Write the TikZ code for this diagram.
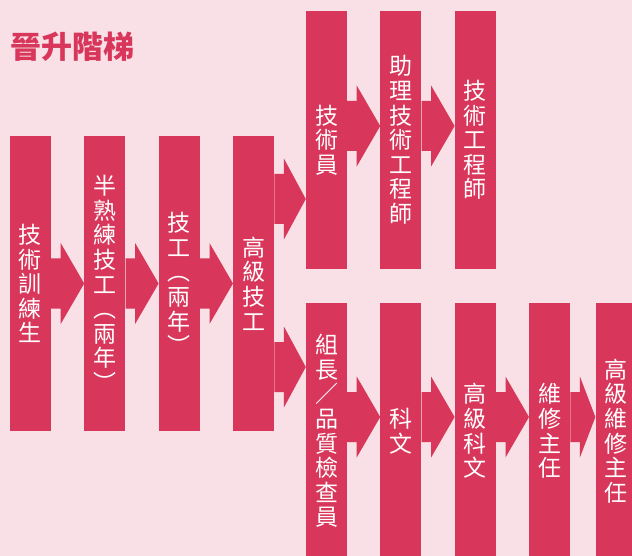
\documentclass[tikz,border=0pt]{standalone}
\usepackage{fontspec}
\newfontfamily\cjk{Noto Sans CJK TC}
\usetikzlibrary{positioning}
\usetikzlibrary{calc}
\definecolor{ladderred}{RGB}{216,54,90}
\definecolor{ladderbg}{RGB}{248,224,230}

\begin{document}
\begin{tikzpicture}[x=1pt,y=1pt]
  \tikzset{node distance=33pt,
           basicbox/.style={minimum width=41pt,minimum height=#1,inner sep=0pt,fill=ladderred,text=white,
                            align=center,font=\cjk\fontsize{23}{24.6}\selectfont},
           longbox/.style={basicbox=295pt},
           upbox/.style={basicbox=258pt},
           downbox/.style={basicbox=256pt},
           promote/.style={fill=ladderred,to path={let \p1=(\tikztostart),\p2=(\tikztotarget) in
             (\x1,\y1+25pt) -- (\x1+9.5pt,\y1+25pt) -- (\x1+9.5pt,\y1+40.5pt) -- (\x2,\y1) --
             (\x1+9.5pt,\y1-40.5pt) -- (\x1+9.5pt,\y1-25pt) -- (\x1,\y1-25pt) -- cycle}}}
  \useasboundingbox (0,0) rectangle (632,-556);
  \clip (0,0) rectangle (632,-556);
  \fill[ladderbg] (0,0) rectangle (632,-556);

  \node[anchor=west,inner sep=0pt,text=ladderred,font=\cjk\bfseries\fontsize{31}{31}\selectfont] (title) at (10,-47) {晉升階梯};

  % first track
  \node[longbox] (trainee) at (30.5,-283.5) {技\\術\\訓\\練\\生};
  \node[longbox,right=of trainee] (semiskilled) {半\\熟\\練\\技\\工\\︵\\兩\\年\\︶};
  \node[longbox,right=of semiskilled] (skilled) {技\\工\\︵\\兩\\年\\︶};
  \node[longbox,right=of skilled] (senior) {高\\級\\技\\工};

  % technical track
  \node[upbox] (technician) at (326.5,-140) {技\\術\\員};
  \node[upbox,right=of technician] (asstengineer) {助\\理\\技\\術\\工\\程\\師};
  \node[upbox,right=of asstengineer] (engineer) {技\\術\\工\\程\\師};

  % supervisory track
  \node[downbox] (leader) at (326.5,-431) {組\\長\\／\\品\\質\\檢\\查\\員};
  \node[downbox,right=of leader] (clerk) {科\\文};
  \node[downbox,right=of clerk] (seniorclerk) {高\\級\\科\\文};
  \node[downbox,right=of seniorclerk] (supervisor) {維\\修\\主\\任};
  \node[downbox,right=25pt of supervisor] (seniorsupervisor) {高\\級\\維\\修\\主\\任};

  \fill[promote] (trainee.east) to (semiskilled.west);
  \fill[promote] (semiskilled.east) to (skilled.west);
  \fill[promote] (skilled.east) to (senior.west);

  \coordinate (branchup) at ($(senior.east)+(0,84.5)$);
  \coordinate (branchdown) at ($(senior.east)+(0,-83.5)$);
  \fill[promote] (branchup) to (technician.west |- branchup);
  \fill[promote] (branchdown) to (leader.west |- branchdown);

  \fill[promote] ($(technician.east)+(0,14)$) to ($(asstengineer.west)+(0,14)$);
  \fill[promote] ($(asstengineer.east)+(0,14)$) to ($(engineer.west)+(0,14)$);

  \fill[promote] ($(leader.east)+(0,14)$) to ($(clerk.west)+(0,14)$);
  \fill[promote] ($(clerk.east)+(0,14)$) to ($(seniorclerk.west)+(0,14)$);
  \fill[promote] ($(seniorclerk.east)+(0,14)$) to ($(supervisor.west)+(0,14)$);
  \fill[promote] ($(supervisor.east)+(0,14)$) to ($(seniorsupervisor.west)+(0,14)$);
\end{tikzpicture}
\end{document}
